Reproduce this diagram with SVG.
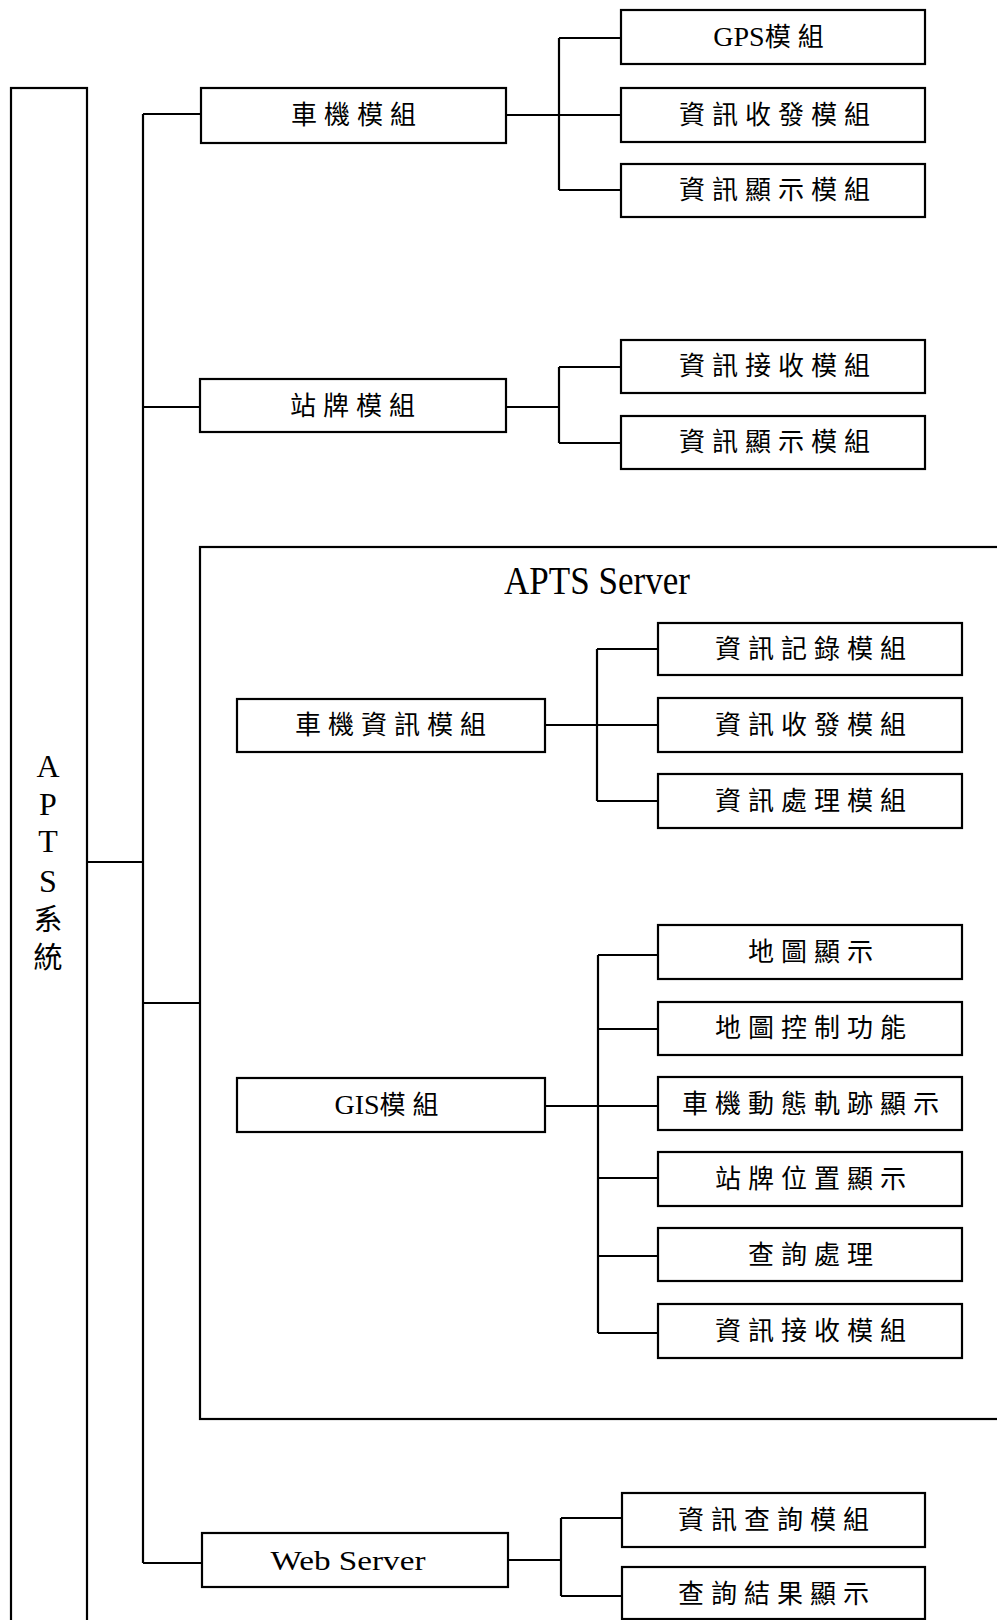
<svg xmlns="http://www.w3.org/2000/svg" width="997" height="1620" viewBox="0 0 997 1620">
<style>
.box{fill:#fff;stroke:#000;stroke-width:2.2}
.frame{fill:none;stroke:#000;stroke-width:2.2}
.con{fill:none;stroke:#000;stroke-width:2.2}
.t{font-family:"Liberation Serif","Noto Sans CJK TC",serif;font-size:26px;letter-spacing:7px;text-anchor:middle;fill:#000}
.lat{letter-spacing:0;font-size:28px}
.v{font-family:"Liberation Serif","Noto Sans CJK TC",serif;font-size:32px;text-anchor:middle;fill:#000}
</style>
<rect width="997" height="1620" fill="#fff"/>
<g id="aptsserver">
<rect class="frame" x="200" y="547" width="830" height="872"/>
<text x="597" y="594" font-family="Liberation Serif,serif" font-size="40" text-anchor="middle" textLength="186" lengthAdjust="spacingAndGlyphs">APTS Server</text>
</g>
<g id="apts">
<rect class="box" x="11" y="88" width="76" height="1560"/>
<text class="v" x="48" y="777">A</text>
<text class="v" x="48" y="815">P</text>
<text class="v" x="48" y="852">T</text>
<text class="v" x="48" y="892">S</text>
<text class="v" x="48" y="930" style="font-size:29px">系</text>
<text class="v" x="48" y="968" style="font-size:29px">統</text>
</g>
<g id="connectors">
<path class="con" d="M87 862H143M143 114V1563M143 114H201M143 407H200M143 1003H200M143 1563H202"/>
<path class="con" d="M506 115H559M559 38V190M559 38H621M559 115H621M559 190H621"/>
<path class="con" d="M506 407H559M559 367V443M559 367H621M559 443H621"/>
<path class="con" d="M545 725H597M597 649V801M597 649H658M597 725H658M597 801H658"/>
<path class="con" d="M545 1106H598M598 955V1333M598 955H658M598 1029H658M598 1106H658M598 1178H658M598 1256H658M598 1333H658"/>
<path class="con" d="M508 1560H561M561 1518V1596M561 1518H622M561 1596H622"/>
</g>
<g id="cheji">
<rect class="box" x="201" y="88" width="305" height="55"/>
<text class="t" x="357" y="124">車機模組</text>
</g>
<g id="gps">
<rect class="box" x="621" y="10" width="304" height="54"/>
<text class="t" x="772" y="46"><tspan class="lat">GPS</tspan>模組</text>
</g>
<g id="shoufa1">
<rect class="box" x="621" y="88" width="304" height="54"/>
<text class="t" x="778" y="124">資訊收發模組</text>
</g>
<g id="xianshi1">
<rect class="box" x="621" y="164" width="304" height="53"/>
<text class="t" x="778" y="199">資訊顯示模組</text>
</g>
<g id="zhanpai">
<rect class="box" x="200" y="379" width="306" height="53"/>
<text class="t" x="356" y="415">站牌模組</text>
</g>
<g id="jieshou1">
<rect class="box" x="621" y="340" width="304" height="53"/>
<text class="t" x="778" y="375">資訊接收模組</text>
</g>
<g id="xianshi2">
<rect class="box" x="621" y="416" width="304" height="53"/>
<text class="t" x="778" y="451">資訊顯示模組</text>
</g>
<g id="chejizixun">
<rect class="box" x="237" y="699" width="308" height="53"/>
<text class="t" x="394" y="734">車機資訊模組</text>
</g>
<g id="jilu">
<rect class="box" x="658" y="623" width="304" height="52"/>
<text class="t" x="814" y="658">資訊記錄模組</text>
</g>
<g id="shoufa2">
<rect class="box" x="658" y="698" width="304" height="54"/>
<text class="t" x="814" y="734">資訊收發模組</text>
</g>
<g id="chuli">
<rect class="box" x="658" y="774" width="304" height="54"/>
<text class="t" x="814" y="810">資訊處理模組</text>
</g>
<g id="gis">
<rect class="box" x="237" y="1078" width="308" height="54"/>
<text class="t" x="390" y="1114"><tspan class="lat">GIS</tspan>模組</text>
</g>
<g id="ditu">
<rect class="box" x="658" y="925" width="304" height="54"/>
<text class="t" x="814" y="961">地圖顯示</text>
</g>
<g id="kongzhi">
<rect class="box" x="658" y="1002" width="304" height="53"/>
<text class="t" x="814" y="1037">地圖控制功能</text>
</g>
<g id="guiji">
<rect class="box" x="658" y="1077" width="304" height="53"/>
<text class="t" x="814" y="1113">車機動態軌跡顯示</text>
</g>
<g id="weizhi">
<rect class="box" x="658" y="1152" width="304" height="54"/>
<text class="t" x="814" y="1188">站牌位置顯示</text>
</g>
<g id="chaxun">
<rect class="box" x="658" y="1228" width="304" height="53"/>
<text class="t" x="814" y="1264">查詢處理</text>
</g>
<g id="jieshou2">
<rect class="box" x="658" y="1304" width="304" height="54"/>
<text class="t" x="814" y="1340">資訊接收模組</text>
</g>
<g id="web">
<rect class="box" x="202" y="1533" width="306" height="54"/>
<text x="348" y="1570" font-family="Liberation Serif,serif" font-size="28" text-anchor="middle" textLength="155" lengthAdjust="spacingAndGlyphs">Web Server</text>
</g>
<g id="chaxunmokuai">
<rect class="box" x="622" y="1493" width="303" height="54"/>
<text class="t" x="777" y="1529">資訊查詢模組</text>
</g>
<g id="jieguo">
<rect class="box" x="622" y="1567" width="303" height="52"/>
<text class="t" x="777" y="1603">查詢結果顯示</text>
</g>
</svg>
